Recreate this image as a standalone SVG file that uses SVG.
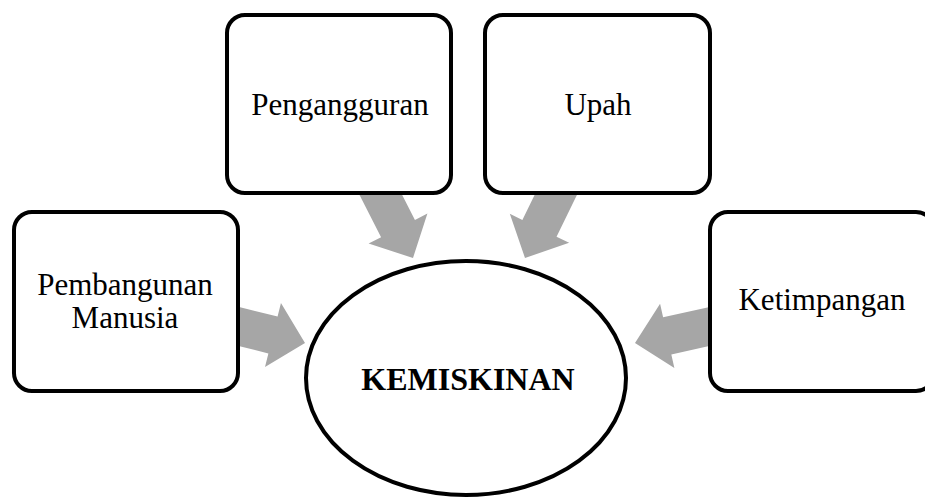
<svg xmlns="http://www.w3.org/2000/svg" width="925" height="498" viewBox="0 0 925 498">
<style>
.box{fill:#fff;stroke:#000;stroke-width:4}
.arr{fill:#a6a6a6;stroke:none}
text{font-family:"Liberation Serif","Times New Roman",serif;font-size:31px;fill:#000;text-anchor:middle}
.b{font-weight:bold;font-size:32px}
</style>
<defs>
<polygon id="blk" points="-90,-19 -33,-19 -33,-33 0,0 -33,33 -33,19 -90,19"/>
</defs>
<g id="connectors">
<use href="#blk" class="arr" transform="translate(413,258) rotate(63)"/>
<use href="#blk" class="arr" transform="translate(525,258) rotate(116)"/>
<use href="#blk" class="arr" transform="translate(305,343) rotate(14)"/>
<use href="#blk" class="arr" transform="translate(635,343) rotate(167.5)"/>
</g>
<g id="kemiskinan">
<ellipse class="box" cx="466" cy="378" rx="160" ry="117"/>
<text class="b" x="468" y="390">KEMISKINAN</text>
</g>
<g id="pengangguran">
<rect class="box" x="227" y="15" width="224" height="178" rx="18"/>
<text x="340" y="115">Pengangguran</text>
</g>
<g id="upah">
<rect class="box" x="485" y="15" width="225" height="178" rx="18"/>
<text x="598" y="115">Upah</text>
</g>
<g id="pembangunan">
<rect class="box" x="14" y="212" width="224" height="179" rx="18"/>
<text x="125" y="295">Pembangunan</text>
<text x="125" y="328">Manusia</text>
</g>
<g id="ketimpangan">
<rect class="box" x="710" y="212" width="224" height="179" rx="18"/>
<text x="822" y="310">Ketimpangan</text>
</g>
</svg>
